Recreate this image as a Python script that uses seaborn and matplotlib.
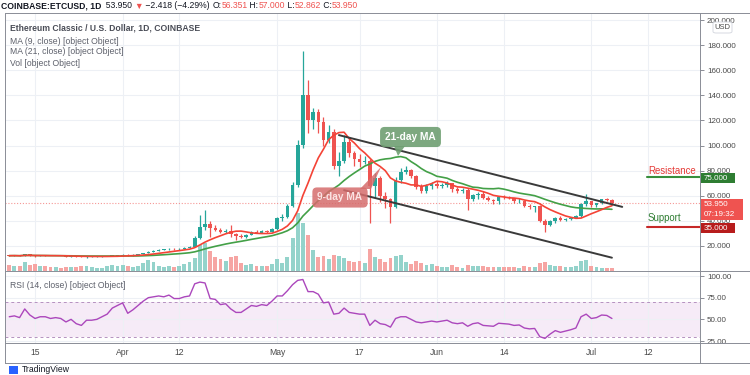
import numpy as np
import pandas as pd
import matplotlib
matplotlib.use("Agg")
import matplotlib.pyplot as plt
import matplotlib.dates as mdates
from matplotlib.patches import Rectangle, Polygon, FancyBboxPatch
from matplotlib.lines import Line2D
import seaborn as sns

# daily ETC/USD candles, 10 Mar - 5 Jul 2021 (open = previous close)
dates = pd.date_range("2021-03-10", "2021-07-05", freq="D")
first_open = 12.3
closes = [12.2, 12.3, 12.0, 13.2, 12.5, 11.9, 12.2, 12.1, 11.8, 12.0, 11.9, 11.5, 11.8, 11.3, 11.0, 11.5,
          11.6, 11.7, 11.9, 12.0, 12.2, 12.3,
          12.9, 12.5, 12.9, 13.4, 14.2, 15.5, 15.9, 17.0, 17.2, 17.8, 17.5, 17.6, 18.6, 19.5, 26.5, 35.0,
          37.5, 34.0, 33.0, 31.0, 31.5, 29.5, 27.5, 27.2, 29.0, 31.0, 30.5, 31.5, 31.2, 33.5,
          42.0, 43.0, 51.5, 68.5, 100.5, 140.0, 120.5, 127.0, 118.5, 104.5, 111.0, 83.5, 87.3, 103.0,
          94.0, 89.0, 87.0, 88.0, 67.5, 74.0, 60.0, 57.0, 51.0, 72.5, 79.0, 80.5, 76.0, 67.0, 64.0,
          67.5, 69.5,
          68.0, 68.5, 70.0, 65.5, 63.5, 64.5, 57.0, 60.5, 61.5, 58.0, 56.5, 55.5, 59.0, 58.8, 58.0,
          55.5, 56.0, 52.0, 51.0, 51.5, 40.0, 36.5, 39.5, 42.0, 40.5, 41.8, 42.5, 43.5, 53.0, 55.5,
          52.5, 53.8, 57.0, 56.35, 53.95]
highs = [12.8, 12.6, 12.5, 13.6, 13.3, 12.6, 12.4, 12.4, 12.3, 12.2, 12.2, 12.0, 12.0, 11.9, 11.6, 11.6,
         11.7, 11.8, 12.1, 12.2, 12.4, 12.6,
         13.2, 13.2, 13.2, 13.7, 14.5, 15.9, 17.0, 17.4, 17.6, 18.2, 18.0, 18.1, 19.0, 20.0, 28.0, 44.5,
         48.5, 39.5, 36.5, 34.0, 33.5, 37.0, 30.0, 29.5, 29.5, 31.8, 32.5, 32.8, 32.5, 34.5,
         43.0, 45.5, 53.5, 71.0, 104.0, 175.0, 152.0, 129.5, 129.0, 123.0, 116.0, 113.0, 95.0, 108.0,
         107.0, 96.0, 93.0, 92.0, 89.0, 78.0, 76.0, 63.0, 58.0, 75.0, 82.0, 84.0, 81.0, 76.5, 69.0,
         69.0, 71.0,
         72.0, 70.0, 71.5, 70.5, 67.0, 66.0, 66.0, 61.5, 63.0, 63.5, 59.5, 57.5, 60.0, 60.5, 60.0,
         58.5, 58.0, 56.5, 53.0, 52.0, 52.5, 41.5, 41.0, 43.0, 43.5, 42.5, 43.0, 45.0, 54.0, 61.5,
         56.0, 54.5, 57.5, 58.0, 57.0]
lows = [11.9, 11.9, 11.6, 11.9, 12.3, 11.5, 11.6, 11.7, 11.6, 11.7, 11.7, 11.3, 11.3, 11.1, 10.8, 10.6,
        11.2, 11.4, 11.5, 11.8, 11.9, 12.0,
        12.2, 12.3, 12.3, 12.8, 13.3, 14.0, 15.2, 15.6, 16.6, 16.9, 17.0, 17.1, 17.4, 18.4, 19.2, 25.5,
        33.0, 27.0, 31.5, 30.0, 30.0, 27.0, 24.5, 26.5, 26.0, 28.5, 30.0, 30.0, 30.5, 30.8,
        33.0, 40.0, 42.5, 51.0, 67.0, 98.0, 110.0, 113.0, 110.0, 100.0, 102.0, 81.0, 75.5, 86.0,
        91.0, 84.0, 83.0, 85.0, 38.5, 58.0, 55.0, 50.0, 38.5, 50.0, 70.0, 77.0, 74.0, 65.0, 62.0,
        62.0, 65.0,
        66.0, 66.0, 67.0, 63.0, 62.0, 62.5, 49.0, 56.0, 57.0, 57.0, 55.5, 53.0, 53.5, 57.5, 57.0,
        54.5, 54.5, 51.0, 49.5, 47.0, 39.0, 31.0, 35.5, 38.5, 39.5, 39.5, 41.0, 42.0, 43.0, 52.0,
        51.0, 51.0, 53.5, 55.5, 52.86]
volumes = [6, 5, 5, 9, 6, 7, 5, 5, 4, 4, 3, 4, 4, 4, 5, 5, 4, 3, 3, 5, 6, 5,
           6, 5, 4, 5, 8, 11, 9, 5, 4, 5, 4, 5, 7, 9, 13, 26, 28, 20, 14, 12, 10, 14, 15, 8,
           6, 7, 5, 5, 5, 7,
           12, 8, 14, 33, 58, 48, 36, 21, 14, 15, 12, 16, 15, 13, 10, 9, 10, 8, 22, 14, 12, 9,
           13, 15, 16, 9, 7, 10, 8, 6, 7,
           5, 4, 4, 6, 4, 3, 6, 5, 5, 5, 4, 4, 4, 4, 4, 4, 3, 5, 4, 4, 8, 9, 6, 5, 5, 4, 4, 5,
           10, 11,
           5, 4, 3, 3, 3]
rsi = [53, 54, 52, 62, 55, 51, 53, 53, 51, 52, 51, 47, 50, 45, 43, 49, 49, 50, 53, 56, 63, 66,
       69, 57, 61, 66, 71, 75, 76, 77, 76, 78, 74, 74, 76, 77, 91, 93, 92, 74, 73, 67, 68, 62,
       58, 58, 62, 66, 65, 67, 66, 71,
       77, 77, 83, 90, 95, 96, 82, 82, 79, 69, 70, 56, 57, 63, 58, 57, 56, 56, 43, 49, 45, 44,
       41, 51, 53, 53, 50, 47, 46, 47, 48,
       47, 48, 49, 46, 45, 46, 42, 45, 46, 43, 42.5, 42, 45.5, 45, 44.5, 43, 43.5, 40, 39, 39.5,
       30, 28, 33, 37, 35, 36.5, 38, 40, 53, 56,
       51, 52, 55, 54.5, 51]

tick_dates = ["2021-03-15", "2021-04-01", "2021-04-12", "2021-05-01", "2021-05-17",
              "2021-06-01", "2021-06-14", "2021-07-01", "2021-07-12"]
tick_labels = ["15", "Apr", "12", "May", "17", "Jun", "14", "Jul", "12"]
price_ticks = list(range(20, 201, 20))
rsi_ticks = [25, 50, 75, 100]
channel_top = (["2021-05-13", "2021-07-07"], [108.3, 51.1])
channel_bottom = (["2021-05-14", "2021-07-05"], [64.4, 10.6])
resistance = 75.0
support = 35.0
last_price = 53.95

GREEN = "#26a69a"
RED = "#ef5350"
DARK = "#131722"
GREY = "#5d606b"

sns.set_theme(style="white")
plt.rcParams["font.family"] = ["Liberation Sans", "DejaVu Sans"]

W, H = 750, 375


def fx(px):
    return px / W


def fy(py):
    return 1 - py / H


fig = plt.figure(figsize=(7.5, 3.75), dpi=100)
fig.patch.set_facecolor("white")
ax = fig.add_axes([fx(5), fy(271), fx(700) - fx(5), fy(13) - fy(271)])
ax_rsi = fig.add_axes([fx(5), fy(343), fx(700) - fx(5), fy(271) - fy(343)])

df = pd.DataFrame({"date": dates, "close": closes, "high": highs, "low": lows,
                   "vol": volumes, "rsi": rsi})
df["open"] = df["close"].shift(1).fillna(first_open)
df["ma9"] = df["close"].rolling(9, min_periods=1).mean()
df["ma21"] = df["close"].rolling(21, min_periods=1).mean()
df["x"] = mdates.date2num(df["date"])
up = (df["close"] >= df["open"]).values
col = np.where(up, GREEN, RED)

x0 = mdates.date2num(pd.Timestamp("2021-03-15"))
xlim = (x0 - 5.83, x0 + 129.1)
ylim = (0, 205.6)

# volume sits in the bottom part of the price pane
vol_h = df["vol"] / df["vol"].max() * 0.225 * ylim[1]
ax.bar(df["x"], vol_h, width=0.75, color=np.where(up, "#94d3cb", "#f6a5a3"), linewidth=0, zorder=1)

# candles
ax.vlines(df["x"], df["low"], df["high"], colors=col, lw=0.9, zorder=3)
body = (df["close"] - df["open"]).abs().clip(lower=0.4)
ax.bar(df["x"], body, bottom=np.minimum(df["open"], df["close"]), width=0.7,
       color=col, linewidth=0, zorder=4)

# moving averages
sns.lineplot(x=df["x"], y=df["ma21"], ax=ax, color="#43a047", lw=1.2, zorder=5, legend=False)
sns.lineplot(x=df["x"], y=df["ma9"], ax=ax, color="#f44336", lw=1.2, zorder=6, legend=False)

# channel, support / resistance, last price
for d, p in (channel_top, channel_bottom):
    ax.plot(mdates.date2num(pd.to_datetime(d)), p, color="#3a3a3a", lw=1.4, zorder=7,
            solid_capstyle="round")
ax.axhline(last_price, color=RED, ls=(0, (1, 1.6)), lw=0.8, alpha=0.6, zorder=2)
ax.axhline(resistance, xmin=(647 - 5) / 695, xmax=1, color="#388e3c", lw=1.5, zorder=7)
ax.axhline(support, xmin=(647 - 5) / 695, xmax=1, color="#c62828", lw=1.5, zorder=7)

# RSI pane
ax_rsi.axhspan(30, 70, color="#9c27b0", alpha=0.09, lw=0, zorder=0)
for lvl in (70, 30):
    ax_rsi.axhline(lvl, color="#b592c0", ls=(0, (3, 3)), lw=0.7, zorder=1)
sns.lineplot(x=df["x"], y=df["rsi"], ax=ax_rsi, color="#ab47bc", lw=1.0, zorder=3, legend=False)

ticks_x = mdates.date2num(pd.to_datetime(tick_dates))
for a in (ax, ax_rsi):
    a.set_xlim(*xlim)
    a.set_xticks(ticks_x)
    a.grid(True, color="#edf0f5", lw=0.8)
    a.set_axisbelow(True)
    for s in a.spines.values():
        s.set_visible(False)
    a.yaxis.tick_right()
    a.tick_params(axis="y", labelsize=5.8, labelcolor="#4a4a4a", length=3, width=0.6,
                  color="#787b86", pad=2, right=True, left=False, direction="out")
    a.set_xlabel("")
    a.set_ylabel("")
ax.set_ylim(*ylim)
ax.set_yticks(price_ticks)
ax.set_yticklabels([f"{v:.3f}" for v in price_ticks])
ax.tick_params(axis="x", bottom=False, labelbottom=False)
ax_rsi.set_ylim(22.7, 105.8)
ax_rsi.set_yticks(rsi_ticks)
ax_rsi.set_yticklabels([f"{v:.2f}" for v in rsi_ticks])
ax_rsi.set_xticklabels(tick_labels)
ax_rsi.tick_params(axis="x", bottom=False, length=0, labelsize=6.2, labelcolor="#4a4a4a", pad=3.5)

# frame and pane separators
frame = dict(color="#8a8d96", lw=0.7, transform=fig.transFigure)
for yy in (13, 271, 343, 363):
    fig.add_artist(Line2D([fx(5), fx(750)], [fy(yy), fy(yy)], **frame))
for xx in (5, 700):
    fig.add_artist(Line2D([fx(xx), fx(xx)], [fy(13), fy(363)], **frame))

# header line
rend = fig.canvas.get_renderer()
parts = [("COINBASE:ETCUSD, 1D", DARK, "bold"), ("  53.950 ", DARK, "normal"), ("▼", RED, "normal"),
         (" \u22122.418 (\u22124.29%) ", DARK, "normal"), ("O:", DARK, "normal"), ("56.351", RED, "normal"),
         (" H:", DARK, "normal"), ("57.000", RED, "normal"), (" L:", DARK, "normal"),
         ("52.862", RED, "normal"), (" C:", DARK, "normal"), ("53.950", RED, "normal")]
xp = 1
for s, c, w in parts:
    t = fig.text(fx(xp), fy(6), s, color=c, fontsize=6.2, fontweight=w, va="center", ha="left")
    xp += t.get_window_extent(rend).width

# pane legends
fig.text(fx(10), fy(28), "Ethereum Classic / U.S. Dollar, 1D, COINBASE", fontsize=6.2,
         fontweight="bold", color="#4a4d57", va="center")
for yy, s in ((41, "MA (9, close) [object Object]"), (52, "MA (21, close) [object Object]"),
              (64, "Vol [object Object]")):
    fig.text(fx(10), fy(yy), s, fontsize=6.2, color=GREY, va="center")
fig.text(fx(10), fy(286), "RSI (14, close) [object Object]", fontsize=6.2, color=GREY, va="center")

# callout boxes
fig.add_artist(Polygon([(fx(394), fy(146)), (fx(405), fy(146)), (fx(398), fy(156))],
                       closed=True, fc="#6f9f72", ec="none", alpha=0.9))
fig.text(fx(410.5), fy(137), "21-day MA", fontsize=7.3, fontweight="bold", color="white",
         ha="center", va="center",
         bbox=dict(boxstyle="round,pad=0.5,rounding_size=0.45", fc="#6f9f72", ec="none", alpha=0.9))
fig.add_artist(Polygon([(fx(360), fy(189)), (fx(371), fy(189)), (fx(381), fy(167))],
                       closed=True, fc="#d56c6c", ec="none", alpha=0.85))
fig.text(fx(340), fy(197.5), "9-day MA", fontsize=7.3, fontweight="bold", color="#fbe3e3",
         ha="center", va="center",
         bbox=dict(boxstyle="round,pad=0.5,rounding_size=0.45", fc="#d56c6c", ec="none", alpha=0.85))

fig.text(fx(648), fy(171), "Resistance", fontsize=6.9, color="#e53935", va="center")
fig.text(fx(648), fy(218), "Support", fontsize=6.9, color="#2e7d32", va="center")

# price scale badges
fig.add_artist(FancyBboxPatch((fx(713), fy(33)), fx(19), fy(22) - fy(33),
                              boxstyle="round,pad=0,rounding_size=0.004", fc="white", ec="#d1d4dc", lw=0.6))
fig.text(fx(722.5), fy(27.5), "USD", fontsize=5.5, color="#4a4a4a", ha="center", va="center")
for (y1, y2, fc, lines) in ((173, 183, "#2e7d32", ["75.000"]),
                            (199, 220, "#ef5350", ["53.950", "07:19:32"]),
                            (223, 233, "#b71c1c", ["35.000"])):
    fig.add_artist(Rectangle((fx(701), fy(y2)), fx(42 if len(lines) > 1 else 34), fy(y1) - fy(y2),
                             fc=fc, ec="none"))
    step = (y2 - y1) / len(lines)
    for k, s in enumerate(lines):
        fig.text(fx(704), fy(y1 + step * (k + 0.5)), s, fontsize=5.8, color="white", va="center")

fig.text(fx(22), fy(369.5), "TradingView", fontsize=6.2, color=DARK, va="center")
fig.add_artist(Rectangle((fx(9), fy(374)), fx(9), fy(366) - fy(374), fc="#2962ff", ec="none"))

fig.savefig("out.png", dpi=100)
